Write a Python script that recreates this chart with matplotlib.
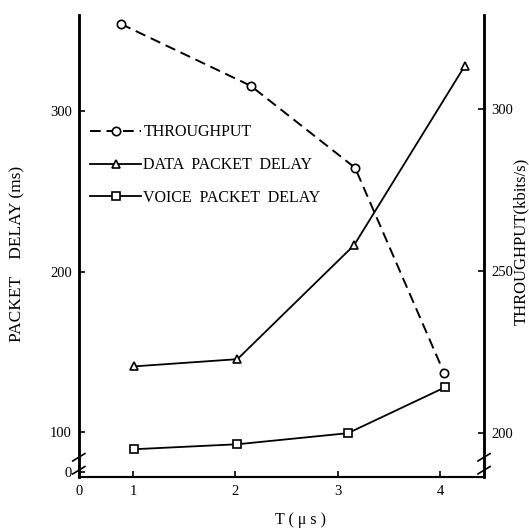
import matplotlib
matplotlib.use('Agg')
import matplotlib.pyplot as plt

plt.rcParams['font.family'] = ['Liberation Serif', 'DejaVu Serif']

# data
thr_x = [0.88, 2.15, 3.17, 4.04]
thr_y = [326.2, 307.1, 281.8, 218.5]          # kbits/s (right axis)
data_x = [1.01, 2.02, 3.16, 4.24]
data_y = [141.0, 145.5, 216.5, 328.0]         # ms (left axis)
voice_x = [1.01, 2.02, 3.10, 4.05]
voice_y = [89.4, 92.5, 99.4, 128.0]           # ms (left axis)

x_ticks = [0.47, 1, 2, 3, 4]
x_labels = ['0', '1', '2', '3', '4']
left_ticks = [75, 100, 200, 300]
left_labels = ['0', '100', '200', '300']
right_ticks = [200, 250, 300]

fig = plt.figure(figsize=(5.29, 5.29), dpi=100)
ax = fig.add_axes([0.149, 0.098, 0.766, 0.874])
ax2 = ax.twinx()

l_data, = ax.plot(data_x, data_y, '-', color='black', lw=1.3, marker='^',
                  ms=6, mfc='white', mec='black', mew=1.2)
l_voice, = ax.plot(voice_x, voice_y, '-', color='black', lw=1.3, marker='s',
                   ms=6, mfc='white', mec='black', mew=1.2)
l_thr, = ax2.plot(thr_x, thr_y, '--', color='black', lw=1.4, marker='o',
                  ms=6, mfc='white', mec='black', mew=1.2, dashes=(5.5, 3))

ax.set_xlim(0.47, 4.43)
ax.set_ylim(72, 360)
ax2.set_ylim(186.4, 329)

ax.set_xticks(x_ticks)
ax.set_xticklabels(x_labels)
ax.set_yticks(left_ticks)
ax.set_yticklabels(left_labels)
ax2.set_yticks(right_ticks)

for a in (ax, ax2):
    a.spines['top'].set_visible(False)
    a.spines['left'].set_linewidth(1.8)
    a.spines['right'].set_linewidth(1.8)
    a.spines['bottom'].set_linewidth(1.5)
    a.tick_params(direction='in', length=4, width=1.2, labelsize=10.5, pad=5)
ax.tick_params(axis='x', pad=6)

ax.set_xlabel('T ( μ s )', fontsize=11.5)
ax.xaxis.set_label_coords(0.546, -0.075)
ax.set_ylabel('PACKET    DELAY (ms)', fontsize=12.5)
ax.yaxis.set_label_coords(-0.133, 0.483)
ax2.set_ylabel('THROUGHPUT(kbits/s)', fontsize=12)
ax2.yaxis.set_label_coords(1.072, 0.511)

# axis break marks
for yb in (0.043, 0.015):
    ax.plot([-0.015, 0.015], [yb - 0.008, yb + 0.008], transform=ax.transAxes,
            color='black', lw=1.2, clip_on=False)
    ax.plot([0.985, 1.015], [yb - 0.008, yb + 0.008], transform=ax.transAxes,
            color='black', lw=1.2, clip_on=False)

ax2.legend([l_thr, l_data, l_voice],
           ['THROUGHPUT', 'DATA  PACKET  DELAY', 'VOICE  PACKET  DELAY'],
           loc='upper left', bbox_to_anchor=(0.158, 0.777),
           bbox_transform=fig.transFigure, frameon=False, fontsize=11.5,
           handlelength=3.2, handletextpad=0.15, labelspacing=1.05,
           borderaxespad=0)

fig.savefig('out.png', dpi=100)
